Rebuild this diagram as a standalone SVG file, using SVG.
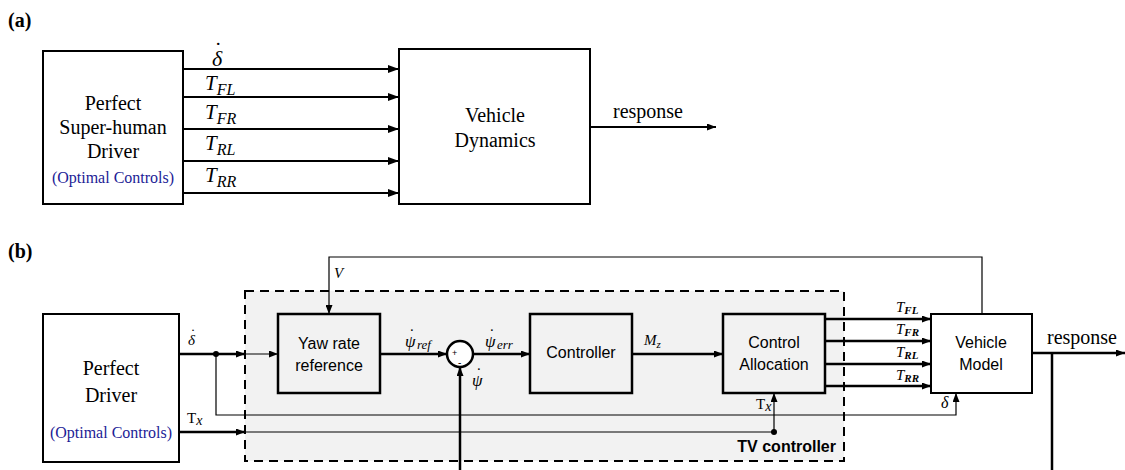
<svg xmlns="http://www.w3.org/2000/svg" width="1125" height="470" viewBox="0 0 1125 470">
  <style>
    .box { fill: #fff; stroke: #000; stroke-width: 2; }
    .boxg { fill: #f2f2f2; stroke: #000; stroke-width: 2.5; }
    .thick { fill: none; stroke: #000; stroke-width: 2.5; }
    .med { fill: none; stroke: #000; stroke-width: 2; }
    .thin { fill: none; stroke: #000; stroke-width: 1.2; }
    .serif { font-family: "Liberation Serif", "Times New Roman", serif; fill: #000; }
    .sans { font-family: "Liberation Sans", Arial, sans-serif; fill: #000; }
    .it { font-style: italic; }
    .up { font-style: normal; }
    .lbl { font-size: 20px; text-anchor: middle; }
    .blk { font-size: 16px; text-anchor: middle; }
    .blue { fill: #1c1c96; font-size: 16px; text-anchor: middle; }
    .title { font-size: 20px; font-weight: bold; }
  </style>
  <defs>
    <marker id="ah" markerWidth="11" markerHeight="8" refX="11" refY="4" orient="auto" markerUnits="userSpaceOnUse">
      <path d="M0,0 L11,4 L0,8 z" fill="#000"/>
    </marker>
    <marker id="ahs" markerWidth="9" markerHeight="7" refX="9" refY="3.5" orient="auto" markerUnits="userSpaceOnUse">
      <path d="M0,0 L9,3.5 L0,7 z" fill="#000"/>
    </marker>
  </defs>

  <!-- ===== Part (a): open-loop optimal control ===== -->
  <text class="serif title" x="8" y="27">(a)</text>

  <g id="a-driver">
    <rect class="box" x="43" y="51" width="140" height="153"/>
    <text class="serif lbl" x="113" y="110">Perfect</text>
    <text class="serif lbl" x="113" y="134">Super-human</text>
    <text class="serif lbl" x="113" y="158">Driver</text>
    <text class="serif blue" x="113" y="183">(Optimal Controls)</text>
  </g>

  <g id="a-vehicle">
    <rect class="box" x="399" y="49" width="191" height="155"/>
    <text class="serif lbl" x="495" y="122">Vehicle</text>
    <text class="serif lbl" x="495" y="147">Dynamics</text>
  </g>

  <g id="a-connectors">
    <path class="med" d="M183,69 H399" marker-end="url(#ah)"/>
    <path class="med" d="M183,97 H399" marker-end="url(#ah)"/>
    <path class="med" d="M183,129 H399" marker-end="url(#ah)"/>
    <path class="med" d="M183,161 H399" marker-end="url(#ah)"/>
    <path class="med" d="M183,193 H399" marker-end="url(#ah)"/>
    <path class="med" d="M590,127 H716" marker-end="url(#ahs)"/>
    <text class="serif" x="613" y="118" font-size="20">response</text>
    <text class="serif it" x="212" y="66" font-size="22">δ<tspan class="up" x="214.5" y="57">˙</tspan></text>
    <text class="serif it" x="205" y="90" font-size="21">T<tspan font-size="16" dy="5">FL</tspan></text>
    <text class="serif it" x="205" y="119" font-size="21">T<tspan font-size="16" dy="5">FR</tspan></text>
    <text class="serif it" x="205" y="150" font-size="21">T<tspan font-size="16" dy="5">RL</tspan></text>
    <text class="serif it" x="205" y="182" font-size="21">T<tspan font-size="16" dy="5">RR</tspan></text>
  </g>

  <!-- ===== Part (b): torque-vectoring closed loop ===== -->
  <text class="serif title" x="8" y="258">(b)</text>

  <g id="tv-controller">
    <rect x="245" y="291" width="599" height="170" fill="#f2f2f2" stroke="#000" stroke-width="2" stroke-dasharray="9 6"/>
    <text class="sans" x="836" y="452" font-size="16" font-weight="bold" text-anchor="end">TV controller</text>
  </g>

  <g id="b-driver">
    <rect class="box" x="43" y="314" width="136" height="148" stroke-width="2.5"/>
    <text class="serif lbl" x="111" y="375">Perfect</text>
    <text class="serif lbl" x="111" y="402">Driver</text>
    <text class="serif blue" x="111" y="438">(Optimal Controls)</text>
  </g>

  <g id="yaw-ref">
    <rect class="boxg" x="278" y="314" width="102" height="79"/>
    <text class="sans blk" x="329" y="349">Yaw rate</text>
    <text class="sans blk" x="329" y="371">reference</text>
  </g>

  <g id="sum">
    <circle cx="460" cy="354" r="13" fill="#fff" stroke="#000" stroke-width="2.5"/>
    <text class="sans" x="452" y="356" font-size="9">+</text>
    <text class="sans" x="458" y="366" font-size="10">-</text>
  </g>

  <g id="controller">
    <rect class="boxg" x="530" y="314" width="102" height="79"/>
    <text class="sans blk" x="581" y="358">Controller</text>
  </g>

  <g id="allocation">
    <rect class="boxg" x="723" y="314" width="102" height="79"/>
    <text class="sans blk" x="774" y="348">Control</text>
    <text class="sans blk" x="774" y="370">Allocation</text>
  </g>

  <g id="vehicle-model">
    <rect class="box" x="931" y="314" width="101" height="79" stroke-width="2.5"/>
    <text class="sans blk" x="981" y="348">Vehicle</text>
    <text class="sans blk" x="981" y="370">Model</text>
  </g>

  <g id="b-connectors">
    <!-- driver outputs -->
    <path class="thick" d="M179,354 H245" marker-end="url(#ahs)"/>
    <path class="thin" d="M245,354 H278" marker-end="url(#ahs)"/>
    <path class="thick" d="M179,432 H245" marker-end="url(#ahs)"/>
    <path class="thin" d="M245,432 H774 V393" marker-end="url(#ahs)"/>
    <circle cx="216" cy="354" r="3" fill="#000"/>
    <circle cx="774" cy="432" r="3" fill="#000"/>
    <path class="thin" d="M216,354 V415 H956 V393" marker-end="url(#ahs)"/>
    <text class="serif it" x="188" y="345" font-size="15">δ<tspan class="up" x="190.5" y="339">˙</tspan></text>
    <text class="serif" x="187" y="423" font-size="15">T<tspan class="it" font-size="14" dy="2">x</tspan></text>

    <!-- speed feedback -->
    <path class="thin" d="M982,314 V257 H329 V314" marker-end="url(#ahs)"/>
    <text class="serif it" x="334" y="278" font-size="15">V</text>

    <!-- yaw-rate loop -->
    <path class="thick" d="M380,354 H447" marker-end="url(#ahs)"/>
    <path class="thick" d="M473,354 H530" marker-end="url(#ahs)"/>
    <path class="thick" d="M460,470 V367" marker-end="url(#ahs)"/>
    <text class="serif it" x="405" y="347" font-size="17">ψ<tspan class="up" x="409" y="340">˙</tspan><tspan x="417" y="349" font-size="13">ref</tspan></text>
    <text class="serif it" x="485" y="347" font-size="17">ψ<tspan class="up" x="489" y="340">˙</tspan><tspan x="497" y="349" font-size="13">err</tspan></text>
    <text class="serif it" x="472" y="386" font-size="17">ψ<tspan class="up" x="476" y="379">˙</tspan></text>

    <!-- yaw moment -->
    <path class="thick" d="M632,354 H723" marker-end="url(#ahs)"/>
    <text class="serif it" x="644" y="345" font-size="15">M<tspan font-size="11" dy="3">z</tspan></text>
    <text class="serif" x="756" y="409" font-size="15">T<tspan class="it" font-size="14" dy="2">x</tspan></text>

    <!-- wheel torques -->
    <path class="thick" d="M825,319 H931" marker-end="url(#ahs)"/>
    <path class="thick" d="M825,341 H931" marker-end="url(#ahs)"/>
    <path class="thick" d="M825,364 H931" marker-end="url(#ahs)"/>
    <path class="thick" d="M825,386 H931" marker-end="url(#ahs)"/>
    <text class="serif it" x="896" y="312" font-size="15">T<tspan font-size="11" font-weight="bold" dy="2">FL</tspan></text>
    <text class="serif it" x="896" y="334" font-size="15">T<tspan font-size="11" font-weight="bold" dy="2">FR</tspan></text>
    <text class="serif it" x="896" y="357" font-size="15">T<tspan font-size="11" font-weight="bold" dy="2">RL</tspan></text>
    <text class="serif it" x="896" y="380" font-size="15">T<tspan font-size="11" font-weight="bold" dy="2">RR</tspan></text>
    <text class="serif it" x="941" y="408" font-size="16">δ</text>

    <!-- vehicle response -->
    <path class="thick" d="M1032,353 H1125" marker-end="url(#ahs)"/>
    <path class="thick" d="M1052,353 V470"/>
    <text class="serif" x="1047" y="344" font-size="20">response</text>
  </g>
</svg>
